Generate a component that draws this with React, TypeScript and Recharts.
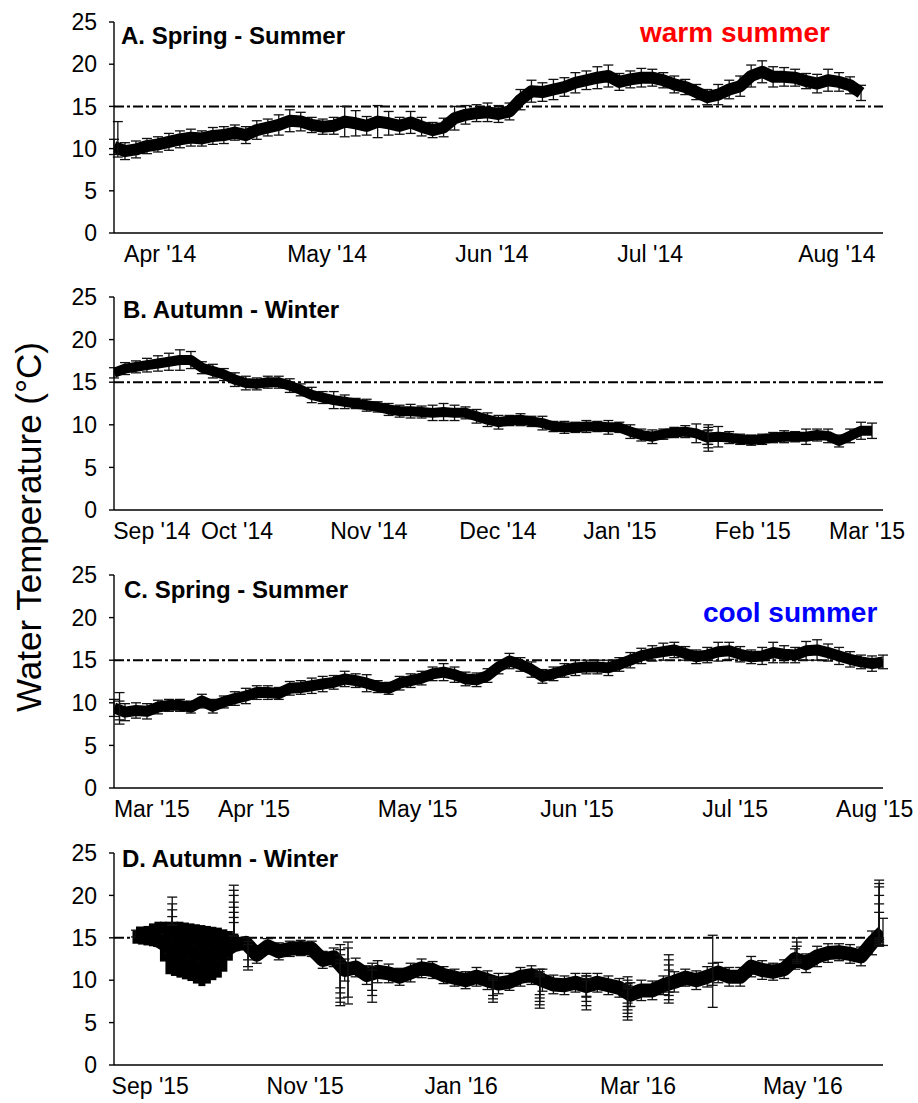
import React from "react";
import {
  ComposedChart,
  Line,
  Scatter,
  XAxis,
  YAxis,
  ErrorBar,
  ReferenceLine,
} from "recharts";

const FONT = "'Liberation Sans', Arial, Helvetica, sans-serif";

// Readings are plotted on a shared 0–140 day axis, one mean every 2 days.
const STEP = 2;
const THRESHOLD = 15;
const yTicks = [0, 5, 10, 15, 20, 25];

// ---------- A. Spring - Summer 2014 ----------
const startA = 0;
const tempA = [
  10.2, 9.7, 9.9, 10.3, 10.5, 10.8, 11.1, 11.3, 11.2, 11.5,
  11.6, 11.9, 11.6, 12.2, 12.5, 12.8, 13.3, 13.2, 12.8, 12.6,
  12.7, 13.2, 13.0, 12.7, 13.2, 13.0, 12.7, 13.1, 12.6, 12.2,
  12.5, 13.6, 14.0, 14.2, 14.3, 14.1, 14.4, 15.8, 16.8, 16.7,
  17.0, 17.3, 17.8, 18.1, 18.4, 18.6, 17.9, 18.2, 18.4, 18.4,
  18.1, 17.6, 17.3, 16.7, 16.1, 16.4, 17.0, 17.4, 18.6, 19.1,
  18.5, 18.5, 18.4, 18.0, 17.7, 18.1, 17.9, 17.5, 16.6,
];
const errA = [
  0.9, 1.0, 1.0, 0.9, 0.9, 1.0, 1.0, 1.0, 0.9, 1.0,
  1.0, 0.9, 1.0, 1.1, 1.0, 1.2, 1.3, 1.1, 0.9, 0.9,
  1.0, 1.8, 1.5, 1.1, 1.9, 1.4, 1.0, 1.3, 1.1, 0.9,
  1.1, 1.4, 1.1, 1.0, 1.1, 1.0, 1.0, 1.2, 1.3, 1.1,
  1.2, 1.1, 1.2, 1.1, 1.3, 1.3, 1.0, 1.0, 1.1, 1.0,
  0.9, 1.0, 0.9, 0.9, 0.9, 1.2, 1.1, 1.2, 1.3, 1.3,
  1.2, 1.1, 1.0, 0.9, 1.1, 1.3, 1.1, 1.0, 0.9,
];
const tickDaysA = [8.4, 38.8, 68.8, 97.6, 131.6];
const tickLabelsA = ["Apr '14", "May '14", "Jun '14", "Jul '14", "Aug '14"];
const spikeDaysA = [0.7];
const spikeMeansA = [10.2];
const spikeLowsA = [[9.0]];
const spikeHighsA = [[13.2]];

// ---------- B. Autumn - Winter 2014/15 ----------
const startB = 0;
const tempB = [
  16.1, 16.6, 16.8, 17.0, 17.2, 17.4, 17.6, 17.6, 16.7, 16.3,
  15.9, 15.3, 14.9, 14.8, 15.0, 15.0, 14.6, 14.1, 13.5, 13.2,
  12.9, 12.7, 12.5, 12.3, 12.1, 11.8, 11.6, 11.6, 11.5, 11.4,
  11.5, 11.4, 11.4, 11.0, 10.6, 10.3, 10.5, 10.6, 10.4, 10.2,
  9.8, 9.7, 9.7, 9.8, 9.8, 9.7, 9.7, 9.2, 8.8, 8.6,
  8.9, 9.1, 9.2, 9.0, 8.5, 8.6, 8.5, 8.3, 8.2, 8.3,
  8.5, 8.6, 8.6, 8.6, 8.8, 8.7, 8.1, 8.7, 9.3, 9.3,
];
const errB = [
  0.6, 0.7, 0.7, 0.8, 0.9, 1.0, 1.2, 1.0, 0.7, 0.8,
  0.7, 0.8, 0.8, 0.7, 0.7, 0.7, 0.8, 0.7, 0.9, 0.7,
  1.0, 0.8, 0.6, 0.7, 0.6, 0.7, 0.7, 0.8, 0.7, 0.9,
  1.0, 0.9, 0.7, 0.8, 0.8, 0.8, 0.6, 0.7, 0.6, 0.8,
  0.6, 0.7, 0.6, 0.7, 0.6, 0.8, 0.6, 0.8, 0.7, 0.8,
  0.6, 0.6, 0.7, 1.1, 0.8, 1.2, 0.7, 0.6, 0.6, 0.6,
  0.6, 0.7, 0.6, 0.9, 0.7, 0.8, 0.7, 0.8, 1.0, 0.9,
];
const tickDaysB = [6.9, 22.4, 46.4, 69.9, 92.1, 116.3, 137.1];
const tickLabelsB = ["Sep '14", "Oct '14", "Nov '14", "Dec '14", "Jan '15", "Feb '15", "Mar '15"];
const spikeDaysB = [108.2];
const spikeMeansB = [8.6];
const spikeLowsB = [[6.9, 7.3, 7.7]];
const spikeHighsB = [[10.0, 9.7, 9.4]];

// ---------- C. Spring - Summer 2015 ----------
const startC = 0;
const tempC = [
  9.4, 8.9, 9.1, 9.0, 9.5, 9.7, 9.7, 9.5, 10.2, 9.6,
  10.1, 10.5, 10.8, 11.2, 11.2, 11.1, 11.7, 11.8, 12.0, 12.2,
  12.4, 12.8, 12.6, 12.3, 11.9, 11.7, 12.3, 12.6, 12.9, 13.4,
  13.6, 13.3, 12.8, 12.7, 13.2, 14.2, 14.9, 14.5, 13.9, 13.1,
  13.4, 13.8, 14.1, 14.2, 14.2, 14.1, 14.5, 15.0, 15.5, 15.8,
  16.0, 16.2, 15.8, 15.4, 15.6, 16.0, 16.1, 15.7, 15.4, 15.5,
  15.9, 15.7, 15.6, 16.1, 16.2, 15.9, 15.5, 15.1, 14.8, 14.6, 14.8,
];
const errC = [
  1.0, 1.0, 0.9, 0.9, 0.8, 0.7, 0.7, 0.7, 0.8, 0.8,
  0.7, 0.8, 0.9, 0.8, 0.8, 0.7, 0.8, 0.8, 0.9, 0.9,
  0.8, 0.9, 0.8, 1.0, 0.7, 0.7, 0.8, 0.8, 0.8, 0.8,
  1.0, 0.9, 0.8, 0.8, 0.8, 0.8, 0.9, 0.8, 0.9, 0.8,
  0.8, 0.8, 0.9, 0.8, 0.8, 0.9, 0.8, 0.9, 0.9, 0.9,
  1.0, 0.9, 0.8, 0.8, 0.9, 1.1, 1.0, 0.9, 0.8, 1.0,
  1.2, 1.0, 0.9, 1.1, 1.2, 1.0, 1.0, 0.9, 0.8, 0.9, 0.8,
];
const tickDaysC = [6.9, 25.5, 55.3, 84.3, 113.1, 138.5];
const tickLabelsC = ["Mar '15", "Apr '15", "May '15", "Jun '15", "Jul '15", "Aug '15"];
const spikeDaysC = [1.0];
const spikeMeansC = [9.2];
const spikeLowsC = [[7.5, 8.0]];
const spikeHighsC = [[11.2, 10.2]];

// ---------- D. Autumn - Winter 2015/16 ----------
const startD = 4;
const tempD = [
  15.5, 15.5, 14.7, 13.9, 13.6, 13.3, 12.9, 13.1, 13.4, 14.2,
  14.4, 13.0, 14.0, 13.4, 13.7, 13.8, 13.7, 12.4, 12.7, 11.2,
  11.5, 10.6, 11.0, 10.8, 10.4, 10.9, 11.4, 11.2, 10.6, 10.3,
  10.0, 10.4, 10.0, 9.6, 9.8, 10.4, 10.6, 10.0, 9.5, 9.4,
  9.7, 9.3, 9.7, 9.4, 9.1, 8.3, 8.8, 8.8, 9.4, 9.8,
  10.3, 10.0, 10.4, 10.9, 10.4, 10.4, 11.6, 11.2, 11.0, 11.3,
  12.5, 12.0, 12.8, 13.2, 13.3, 13.1, 12.8, 14.4, 15.7,
];
const errD = [
  0.4, 0.6, 0.7, 0.7, 0.7, 0.7, 0.7, 0.7, 0.7, 0.7,
  0.6, 1.0, 0.9, 1.0, 0.9, 0.9, 0.9, 1.0, 1.1, 1.3,
  1.1, 1.1, 1.3, 1.1, 1.0, 1.1, 1.1, 1.0, 1.0, 1.0,
  1.0, 1.1, 1.1, 1.2, 1.0, 1.1, 1.1, 1.3, 1.1, 1.1,
  1.1, 1.2, 1.1, 1.1, 1.1, 1.4, 1.2, 1.1, 1.1, 1.2,
  1.0, 1.1, 1.2, 1.2, 1.1, 1.1, 1.2, 1.1, 1.0, 1.1,
  1.2, 1.1, 1.2, 1.1, 1.0, 1.1, 1.1, 1.4, 1.6,
];
// daily spread during the early-autumn mixing period (upper / lower ends)
const spreadStartD = 4;
const spreadTopD = [
  15.9, 16.1, 16.4, 16.7, 16.9, 16.9, 16.9, 16.9, 16.9, 16.8,
  16.7, 16.6, 16.5, 16.4, 16.3, 16.2, 16.0, 15.8, 15.5, 15.0, 14.7,
];
const spreadBottomD = [
  14.3, 14.2, 14.1, 14.0, 13.9, 12.2, 10.7, 10.5, 10.3, 10.1,
  9.9, 9.6, 9.3, 9.6, 10.0, 10.3, 11.0, 12.3, 13.4, 14.0, 14.1,
];
const tickDaysD = [6.6, 34.8, 63.2, 95.4, 125.4];
const tickLabelsD = ["Sep '15", "Nov '15", "Jan '16", "Mar '16", "May '16"];
const spikeDaysD = [10.6, 21.8, 24.4, 41.2, 42.6, 47.0, 69.0, 77.5, 86.0, 93.5, 101.0, 109.0, 124.3, 139.3];
const spikeMeansD = [16.5, 15.2, 13.8, 11.0, 11.0, 10.4, 9.6, 9.8, 9.3, 8.3, 9.6, 10.8, 13.0, 15.5];
const spikeLowsD = [
  [16.5, 16.5, 16.5, 16.5],
  [15.2, 15.2, 15.2, 15.2, 15.2, 15.2, 15.2, 15.2],
  [11.2, 11.6, 12.4],
  [7.0, 7.4, 7.9, 8.5, 9.1],
  [7.2, 8.0],
  [7.4, 8.2, 8.8],
  [7.4, 7.8, 8.2],
  [6.7, 7.1, 7.5, 7.9, 8.3],
  [6.5, 7.0, 7.5, 8.0],
  [5.3, 5.7, 6.1, 6.5, 6.9, 7.3],
  [7.3, 7.7, 8.2, 8.6],
  [6.8, 9.4],
  [12.0, 12.2, 12.4],
  [14.0, 14.2, 14.4, 14.6, 14.8, 15.0],
];
const spikeHighsD = [
  [19.8, 19.0, 18.3, 17.5],
  [21.2, 20.6, 20.0, 19.2, 18.6, 18.0, 17.4, 16.8],
  [15.0, 14.6, 14.2],
  [14.2, 13.6, 13.0, 12.4, 12.0],
  [14.5, 13.8],
  [12.0, 11.6, 11.2],
  [10.4, 10.2, 10.0],
  [11.3, 11.0, 10.8, 10.6, 10.4],
  [10.8, 10.5, 10.2, 10.0],
  [10.4, 10.0, 9.6, 9.4, 9.2, 9.0],
  [13.0, 12.4, 11.8, 11.2],
  [15.3, 12.0],
  [15.0, 14.5, 14.0],
  [21.8, 21.4, 21.0, 20.0, 19.0, 18.0],
];

// ---------- table builders ----------
type Pt = { day: number; t: number; e: number | [number, number] };

const buildSeries = (start: number, temps: number[], errs: number[]): Pt[] =>
  temps.map((t, i) => ({ day: start + i * STEP, t, e: errs[i] }));

const buildSpikes = (days: number[], means: number[], lows: number[][], highs: number[][]): Pt[] =>
  days.flatMap((d, i) =>
    lows[i].map((lo, j) => ({
      day: d,
      t: means[i],
      e: [means[i] - lo, highs[i][j] - means[i]] as [number, number],
    }))
  );

const buildSpread = (start: number, tops: number[], bottoms: number[]): Pt[] =>
  tops.map((top, i) => ({
    day: start + i,
    t: (top + bottoms[i]) / 2,
    e: (top - bottoms[i]) / 2,
  }));

const noShape = () => <g />;

type PanelProps = {
  top: number;
  plotHeight: number;
  series: Pt[];
  spikes: Pt[];
  spread?: Pt[];
  tickDays: number[];
  tickLabels: string[];
  lineWidth: number;
};

const MARGIN_TOP = 20;
const AXIS_H = 30;
const MARGIN_BOTTOM = 12;

function Panel({ top, plotHeight, series, spikes, spread, tickDays, tickLabels, lineWidth }: PanelProps) {
  const height = plotHeight + MARGIN_TOP + AXIS_H + MARGIN_BOTTOM;
  return (
    <div style={{ position: "absolute", left: 0, top: top - MARGIN_TOP }}>
      <ComposedChart
        width={918}
        height={height}
        margin={{ top: MARGIN_TOP, right: 35, bottom: MARGIN_BOTTOM, left: 0 }}
      >
        <XAxis
          type="number"
          dataKey="day"
          domain={[0, 140]}
          allowDataOverflow
          ticks={tickDays}
          interval={0}
          tickFormatter={(v: number) => tickLabels[tickDays.indexOf(v)] ?? ""}
          tickLine={false}
          tickSize={0}
          tickMargin={13}
          height={AXIS_H}
          axisLine={{ stroke: "#000", strokeWidth: 1.4 }}
          tick={{ fontSize: 23, fill: "#000", fontFamily: FONT }}
        />
        <YAxis
          type="number"
          dataKey="t"
          domain={[0, 25]}
          ticks={yTicks}
          interval={0}
          width={114}
          tickSize={5}
          tickMargin={12}
          axisLine={{ stroke: "#000", strokeWidth: 1.4 }}
          tickLine={{ stroke: "#000", strokeWidth: 1.4 }}
          tick={{ fontSize: 23, fill: "#000", fontFamily: FONT }}
        />
        <ReferenceLine
          y={THRESHOLD}
          stroke="#000"
          strokeWidth={2}
          strokeDasharray="10 3 3 3"
        />
        {spread && (
          <Scatter data={spread} dataKey="t" shape={noShape} isAnimationActive={false}>
            <ErrorBar dataKey="e" direction="y" width={0} stroke="#000" strokeWidth={7} isAnimationActive={false} />
          </Scatter>
        )}
        <Line
          data={series}
          dataKey="t"
          type="linear"
          stroke="#000"
          strokeWidth={lineWidth}
          strokeLinejoin="round"
          dot={false}
          activeDot={false}
          isAnimationActive={false}
        >
          <ErrorBar dataKey="e" direction="y" width={5} stroke="#111" strokeWidth={1.3} isAnimationActive={false} />
        </Line>
        <Scatter data={spikes} dataKey="t" shape={noShape} isAnimationActive={false}>
          <ErrorBar dataKey="e" direction="y" width={5} stroke="#111" strokeWidth={1.3} isAnimationActive={false} />
        </Scatter>
      </ComposedChart>
    </div>
  );
}

const titleStyle = { fontFamily: FONT, fontWeight: 700, fontSize: 24, fill: "#000" } as const;
const noteStyle = { fontFamily: FONT, fontWeight: 700, fontSize: 28 } as const;

export default function App() {
  return (
    <div style={{ position: "absolute", left: 0, top: 0, width: 918, height: 1103, background: "#fff" }}>
      <Panel
        top={22}
        plotHeight={211}
        series={buildSeries(startA, tempA, errA)}
        spikes={buildSpikes(spikeDaysA, spikeMeansA, spikeLowsA, spikeHighsA)}
        tickDays={tickDaysA}
        tickLabels={tickLabelsA}
        lineWidth={12}
      />
      <Panel
        top={297}
        plotHeight={213}
        series={buildSeries(startB, tempB, errB)}
        spikes={buildSpikes(spikeDaysB, spikeMeansB, spikeLowsB, spikeHighsB)}
        tickDays={tickDaysB}
        tickLabels={tickLabelsB}
        lineWidth={10}
      />
      <Panel
        top={575}
        plotHeight={213}
        series={buildSeries(startC, tempC, errC)}
        spikes={buildSpikes(spikeDaysC, spikeMeansC, spikeLowsC, spikeHighsC)}
        tickDays={tickDaysC}
        tickLabels={tickLabelsC}
        lineWidth={11}
      />
      <Panel
        top={853}
        plotHeight={212}
        series={buildSeries(startD, tempD, errD)}
        spikes={buildSpikes(spikeDaysD, spikeMeansD, spikeLowsD, spikeHighsD)}
        spread={buildSpread(spreadStartD, spreadTopD, spreadBottomD)}
        tickDays={tickDaysD}
        tickLabels={tickLabelsD}
        lineWidth={14}
      />
      <svg
        width={918}
        height={1103}
        style={{ position: "absolute", left: 0, top: 0, pointerEvents: "none" }}
      >
        <text
          x={41}
          y={527}
          transform="rotate(-90, 41, 527)"
          textAnchor="middle"
          style={{ fontFamily: FONT, fontSize: 35, fill: "#000" }}
        >
          Water Temperature (°C)
        </text>
        <text x={121} y={44} style={titleStyle}>A. Spring - Summer</text>
        <text x={123} y={318} style={titleStyle}>B. Autumn - Winter</text>
        <text x={124} y={598} style={titleStyle}>C. Spring - Summer</text>
        <text x={122} y={867} style={titleStyle}>D. Autumn - Winter</text>
        <text x={640} y={42} style={{ ...noteStyle, fill: "#ff0000" }}>warm summer</text>
        <text x={703} y={622} style={{ ...noteStyle, fill: "#0000ff" }}>cool summer</text>
      </svg>
    </div>
  );
}
